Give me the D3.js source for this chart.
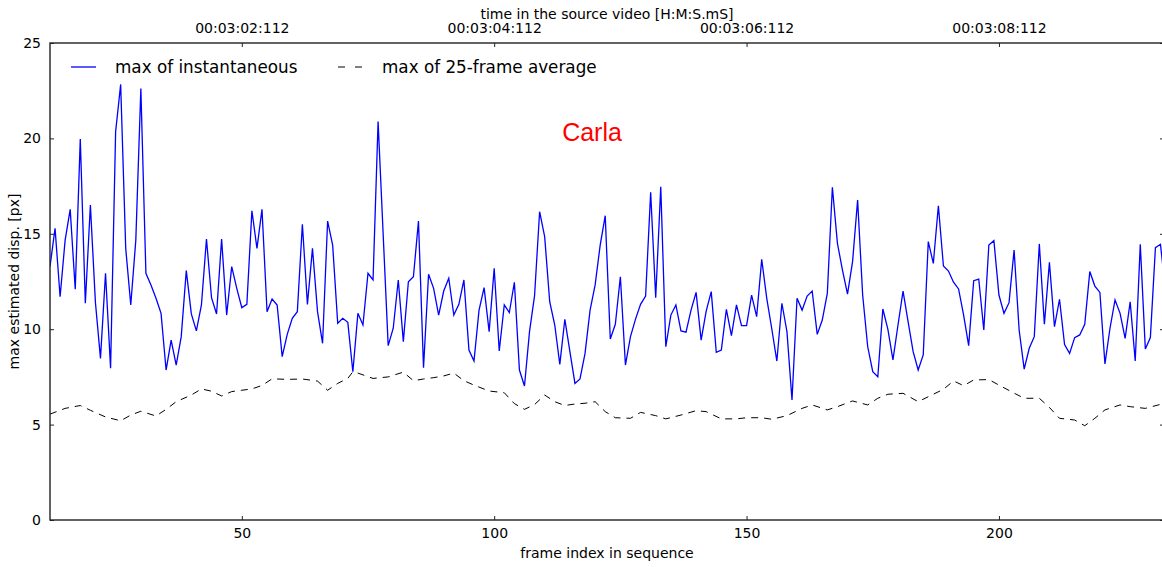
<!DOCTYPE html>
<html>
<head>
<meta charset="utf-8">
<script src="https://cdn.jsdelivr.net/npm/d3@7"></script>
<style>
  html, body { margin: 0; padding: 0; background: #fff; }
  svg { display: block; }
  text { font-family: "DejaVu Sans", sans-serif; fill: #000; }
</style>
</head>
<body>
<svg id="chart" width="1162" height="567"></svg>
<script>
// Per-frame maximum of the instantaneous displacement (frames 12..233)
const firstFrame = 12;
const instMax = [
  13.28, 15.29, 11.7, 14.67, 16.28, 12.09, 19.97, 11.36, 16.51, 11.4,
  8.47, 12.93, 7.95, 20.35, 22.83, 14.24, 11.27, 14.67, 22.62, 12.93,
  12.32, 11.62, 10.83, 7.86, 9.43, 8.12, 9.61, 13.07, 10.8, 9.91,
  11.27, 14.73, 11.65, 10.8, 14.73, 10.74, 13.28, 12.14, 11.13, 11.3,
  16.21, 14.24, 16.28, 10.92, 11.58, 11.27, 8.56, 9.73, 10.57, 10.92,
  15.5, 11.3, 14.24, 10.92, 9.26, 15.67, 14.41, 10.31, 10.57, 10.36,
  7.77, 10.83, 10.22, 12.93, 12.58, 20.88, 15.0, 9.14, 10.05, 12.58,
  9.35, 12.49, 12.75, 15.67, 7.98, 12.88, 12.14, 10.74, 12.0, 12.67,
  10.74, 11.3, 12.58, 8.91, 8.33, 11.0, 12.18, 9.87, 13.19, 8.86,
  11.27, 10.87, 12.46, 7.86, 7.02, 9.87, 11.76, 16.16, 14.85, 11.44,
  10.22, 8.16, 10.52, 8.82, 7.16, 7.39, 8.73, 11.0, 12.32, 14.41,
  15.95, 9.49, 10.26, 12.75, 8.12, 9.61, 10.53, 11.3, 11.74, 17.17,
  11.65, 17.47, 9.08, 10.74, 11.27, 9.91, 9.84, 11.0, 11.93, 9.43,
  10.95, 11.97, 8.79, 8.91, 11.04, 9.66, 11.27, 10.19, 10.19, 11.79,
  10.66, 13.66, 11.62, 10.01, 8.33, 11.36, 9.87, 6.29, 11.62, 11.0,
  11.74, 12.0, 9.73, 10.48, 11.88, 17.44, 14.5, 13.1, 11.84, 13.54,
  16.77, 11.79, 9.08, 7.77, 7.51, 11.06, 9.99, 8.39, 10.22, 12.0,
  10.4, 8.82, 7.86, 8.65, 14.59, 13.45, 16.47, 13.31, 13.05, 12.46,
  12.11, 10.74, 9.14, 12.54, 12.63, 9.96, 14.41, 14.64, 11.79, 10.83,
  11.39, 14.15, 9.96, 7.91, 9.0, 9.61, 14.47, 10.26, 13.5, 10.13,
  11.57, 9.2, 8.73, 9.56, 9.7, 10.26, 13.02, 12.26, 11.93, 8.18,
  10.05, 11.53, 10.83, 9.52, 11.44, 8.33, 14.45, 8.96, 9.56, 14.27,
  14.45, 12.0
];

// Maximum of the 25-frame running average, sampled frames and values
const avgFrames = [
  12, 15, 18, 20, 23, 26, 28, 30, 33, 35, 37, 40, 42, 44, 46, 48, 50, 52, 54, 56,
  59, 62, 65, 67, 69, 71, 72, 73, 76, 79, 82, 84, 86, 88, 90, 92, 94, 96, 99, 102,
  104, 106, 108, 110, 112, 114, 116, 118, 120, 122, 124, 127, 129, 132, 134, 137, 140, 142, 145, 148,
  150, 153, 155, 158, 161, 163, 166, 168, 171, 174, 176, 178, 181, 184, 186, 189, 191, 193, 195, 198,
  200, 203, 205, 208, 210, 212, 215, 217, 219, 221, 224, 226, 229, 232, 233
];
const avgMax = [
  5.55, 5.85, 6.0, 5.75, 5.4, 5.2, 5.5, 5.7, 5.45, 5.8, 6.2, 6.55, 6.87, 6.75, 6.5, 6.73, 6.8, 6.87, 7.05, 7.4,
  7.37, 7.39, 7.28, 6.8, 7.16, 7.42, 7.77, 7.7, 7.42, 7.5, 7.75, 7.3, 7.39, 7.46, 7.55, 7.7, 7.3, 7.07, 6.76, 6.67,
  6.1, 5.8, 6.05, 6.55, 6.2, 6.0, 6.08, 6.12, 6.2, 5.68, 5.36, 5.33, 5.64, 5.47, 5.3, 5.5, 5.73, 5.68, 5.3, 5.3,
  5.36, 5.36, 5.28, 5.47, 5.85, 6.03, 5.77, 5.94, 6.24, 6.03, 6.38, 6.59, 6.64, 6.2, 6.46, 6.85, 7.29, 7.04, 7.34, 7.36,
  7.07, 6.65, 6.38, 6.38, 5.9, 5.33, 5.24, 4.94, 5.33, 5.77, 6.03, 5.94, 5.85, 6.06, 6.1
];

// Axis ticks
const frameTicks = [50, 100, 150, 200];
const timeTickFrames = [50, 100, 150, 200];
const timeTickLabels = ["00:03:02:112", "00:03:04:112", "00:03:06:112", "00:03:08:112"];
const dispTicks = [0, 5, 10, 15, 20, 25];

const seriesNames = ["max of instantaneous", "max of 25-frame average"];
const subjectName = "Carla";

const svg = d3.select("#chart");
const plotLeft = 50, plotRight = 1164, plotTop = 43, plotBottom = 520;

const x = d3.scaleLinear().domain([12, 232.7]).range([plotLeft, plotRight]);
const y = d3.scaleLinear().domain([0, 25]).range([plotBottom, plotTop]);

svg.append("defs").append("clipPath").attr("id", "plotClip")
  .append("rect").attr("x", plotLeft).attr("y", plotTop)
  .attr("width", plotRight - plotLeft).attr("height", plotBottom - plotTop);

const plot = svg.append("g").attr("clip-path", "url(#plotClip)");

const instPts = instMax.map((v, i) => [firstFrame + i, v]);
const avgPts = avgFrames.map((f, i) => [f, avgMax[i]]);

const line = d3.line().x(d => x(d[0])).y(d => y(d[1]));

plot.append("path").datum(avgPts)
  .attr("d", line)
  .attr("fill", "none")
  .attr("stroke", "#000")
  .attr("stroke-width", 1)
  .attr("stroke-dasharray", "7,6");

plot.append("path").datum(instPts)
  .attr("d", line)
  .attr("fill", "none")
  .attr("stroke", "#0000ff")
  .attr("stroke-width", 1.3)
  .attr("stroke-linejoin", "miter");

// Axes: ticks drawn inward on all four sides
const tickLen = 4;
const axisColor = "#222";

const bottomAxis = d3.axisBottom(x).tickValues(frameTicks).tickSizeInner(-tickLen).tickSizeOuter(0).tickPadding(8);
const gb = svg.append("g").attr("transform", `translate(0,${plotBottom})`).call(bottomAxis);
gb.select(".domain").remove();
gb.selectAll("text").attr("font-size", 14).attr("font-family", "DejaVu Sans").attr("dy", "0.71em");

const topAxis = d3.axisTop(x).tickValues(timeTickFrames)
  .tickFormat((d, i) => timeTickLabels[i]).tickSizeInner(-tickLen).tickSizeOuter(0).tickPadding(10);
const gt = svg.append("g").attr("transform", `translate(0,${plotTop})`).call(topAxis);
gt.select(".domain").remove();
gt.selectAll("text").attr("font-size", 14).attr("font-family", "DejaVu Sans");

const leftAxis = d3.axisLeft(y).tickValues(dispTicks).tickSizeInner(-tickLen).tickSizeOuter(0).tickPadding(9);
const gl = svg.append("g").attr("transform", `translate(${plotLeft},0)`).call(leftAxis);
gl.select(".domain").remove();
gl.selectAll("text").attr("font-size", 14).attr("font-family", "DejaVu Sans");

const rightAxis = d3.axisRight(y).tickValues(dispTicks).tickSizeInner(-tickLen).tickSizeOuter(0).tickFormat("");
const gr = svg.append("g").attr("transform", `translate(${plotRight},0)`).call(rightAxis);
gr.select(".domain").remove();

svg.selectAll(".tick line").attr("stroke", axisColor).attr("stroke-width", 1);

// Frame around the plot
svg.append("rect")
  .attr("x", plotLeft).attr("y", plotTop)
  .attr("width", plotRight - plotLeft).attr("height", plotBottom - plotTop)
  .attr("fill", "none").attr("stroke", axisColor).attr("stroke-width", 1.4);

// Axis titles
const midX = (plotLeft + plotRight) / 2;
svg.append("text").attr("x", midX).attr("y", 558)
  .attr("text-anchor", "middle").attr("font-size", 14)
  .text("frame index in sequence");
svg.append("text").attr("x", midX).attr("y", 19)
  .attr("text-anchor", "middle").attr("font-size", 14)
  .text("time in the source video [H:M:S.mS]");
svg.append("text")
  .attr("transform", `translate(19,${(plotTop + plotBottom) / 2}) rotate(-90)`)
  .attr("text-anchor", "middle").attr("font-size", 14)
  .text("max estimated disp. [px]");

// Legend (no frame)
const legend = svg.append("g");
const legY = 67;
legend.append("line").attr("x1", 71).attr("x2", 96).attr("y1", legY).attr("y2", legY)
  .attr("stroke", "#0000ff").attr("stroke-width", 1.3);
legend.append("text").attr("x", 115).attr("y", legY + 6).attr("font-size", 16.8).text(seriesNames[0]);
legend.append("line").attr("x1", 338).attr("x2", 362).attr("y1", legY).attr("y2", legY)
  .attr("stroke", "#000").attr("stroke-width", 1).attr("stroke-dasharray", "7,10");
legend.append("text").attr("x", 382).attr("y", legY + 6).attr("font-size", 16.8).text(seriesNames[1]);

// Subject name
svg.append("text").attr("x", 592).attr("y", 141)
  .attr("text-anchor", "middle")
  .style("font-family", "'Liberation Sans', Arial, sans-serif")
  .style("fill", "#ff0000")
  .attr("font-size", 25)
  .text(subjectName);
</script>
</body>
</html>
